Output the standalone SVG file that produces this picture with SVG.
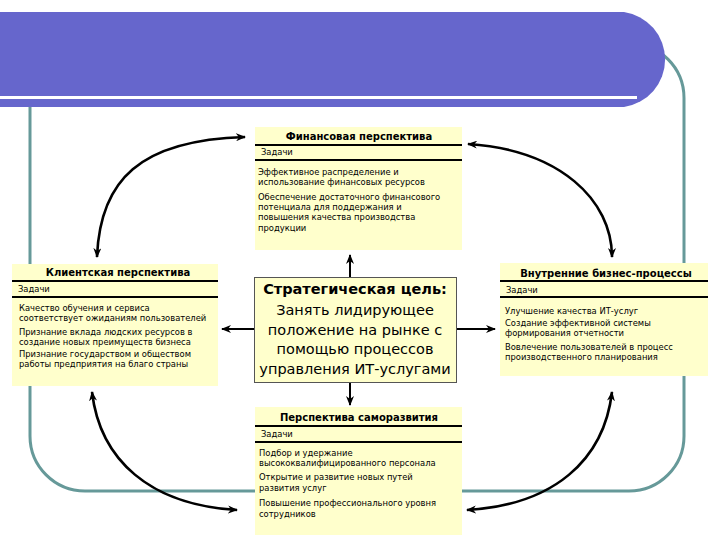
<svg xmlns="http://www.w3.org/2000/svg" width="720" height="540" viewBox="0 0 720 540">
<defs>
<marker id="ah" viewBox="0 0 10 8" refX="9" refY="4" markerWidth="10" markerHeight="8" markerUnits="userSpaceOnUse" orient="auto-start-reverse">
<path d="M0,0 L10,4 L0,8 L3,4 z" fill="#000"/>
</marker>
<style>
.box{fill:#FFFFCC;}
.sep{stroke:#000;stroke-width:2;}
.ttl{font-family:"DejaVu Sans",Verdana,sans-serif;font-weight:bold;font-size:10px;fill:#000;text-anchor:middle;}
.sm{font-family:"DejaVu Sans",Verdana,sans-serif;font-size:8.4px;fill:#000;}
.cen{font-family:"DejaVu Sans",Verdana,sans-serif;font-size:14.5px;fill:#000;text-anchor:middle;}
.conn path,.conn line{fill:none;stroke:#000;}
.curve{stroke-width:2.6;}
.str{stroke-width:2;}
</style>
</defs>
<rect width="720" height="540" fill="#fff"/>
<rect x="30" y="43" width="654" height="448" rx="55" ry="55" fill="none" stroke="#669999" stroke-width="3"/>
<path d="M-5,12 H624 A48,48 0 0 1 624,107 H-5 z" fill="#6666CC"/>
<line x1="0" y1="97.5" x2="637" y2="97.5" stroke="#fff" stroke-width="3"/>

<g id="financial">
<rect class="box" x="255" y="127" width="207" height="123"/>
<text class="ttl" x="359" y="140">Финансовая перспектива</text>
<line class="sep" x1="255" y1="145" x2="462" y2="145"/>
<text class="sm" x="261" y="155">Задачи</text>
<line class="sep" x1="255" y1="160" x2="462" y2="160"/>
<text class="sm" x="258" y="175">Эффективное распределение и</text>
<text class="sm" x="258" y="185">использование финансовых ресурсов</text>
<text class="sm" x="258" y="200">Обеспечение достаточного финансового</text>
<text class="sm" x="258" y="210">потенциала для поддержания и</text>
<text class="sm" x="258" y="220">повышения качества производства</text>
<text class="sm" x="258" y="231">продукции</text>
</g>

<g id="client">
<rect class="box" x="12" y="264" width="206" height="122"/>
<text class="ttl" x="118" y="276">Клиентская перспектива</text>
<line class="sep" x1="12" y1="281" x2="218" y2="281"/>
<text class="sm" x="18" y="292">Задачи</text>
<line class="sep" x1="12" y1="297" x2="218" y2="297"/>
<text class="sm" x="19" y="311">Качество обучения и сервиса</text>
<text class="sm" x="19" y="321">соответствует ожиданиям пользователей</text>
<text class="sm" x="19" y="335">Признание вклада людских ресурсов в</text>
<text class="sm" x="19" y="345">создание новых преимуществ бизнеса</text>
<text class="sm" x="19" y="357">Признание государством и обществом</text>
<text class="sm" x="19" y="367">работы предприятия на благо страны</text>
</g>

<g id="internal">
<rect class="box" x="500" y="263" width="208" height="113"/>
<text class="ttl" x="606" y="277">Внутренние бизнес-процессы</text>
<line class="sep" x1="500" y1="281" x2="708" y2="281"/>
<text class="sm" x="506" y="293">Задачи</text>
<line class="sep" x1="500" y1="297" x2="708" y2="297"/>
<text class="sm" x="505" y="314">Улучшение качества ИТ-услуг</text>
<text class="sm" x="505" y="326">Создание эффективной системы</text>
<text class="sm" x="505" y="336">формирования отчетности</text>
<text class="sm" x="505" y="350">Вовлечение пользователей в процесс</text>
<text class="sm" x="505" y="360">производственного планирования</text>
</g>

<g id="goal">
<rect x="254.5" y="277.5" width="202" height="105" fill="#FFFFCC" stroke="#555" stroke-width="1"/>
<text class="cen" x="355" y="294" font-weight="bold" font-size="14px">Стратегическая цель:</text>
<text class="cen" x="355" y="315">Занять лидирующее</text>
<text class="cen" x="355" y="334.5">положение на рынке с</text>
<text class="cen" x="355" y="354">помощью процессов</text>
<text class="cen" x="355" y="373.5">управления ИТ-услугами</text>
</g>

<g id="selfdev">
<rect class="box" x="255" y="407" width="207" height="128"/>
<text class="ttl" x="359" y="421">Перспектива саморазвития</text>
<line class="sep" x1="255" y1="426" x2="462" y2="426"/>
<text class="sm" x="261" y="437">Задачи</text>
<line class="sep" x1="255" y1="442" x2="462" y2="442"/>
<text class="sm" x="259" y="456">Подбор и удержание</text>
<text class="sm" x="259" y="466">высококвалифицированного персонала</text>
<text class="sm" x="259" y="480">Открытие и развитие новых путей</text>
<text class="sm" x="259" y="491">развития услуг</text>
<text class="sm" x="259" y="506">Повышение профессионального уровня</text>
<text class="sm" x="259" y="517">сотрудников</text>
</g>

<g id="connectors" class="conn">
<path class="curve" d="M97,257 C100,180 140,140 245,137" marker-start="url(#ah)" marker-end="url(#ah)"/>
<path class="curve" d="M468,144 C560,150 612,200 612,257" marker-start="url(#ah)" marker-end="url(#ah)"/>
<path class="curve" d="M92,392 C100,460 150,505 237,510" marker-start="url(#ah)" marker-end="url(#ah)"/>
<path class="curve" d="M612,392 C604,460 554,505 467,510" marker-start="url(#ah)" marker-end="url(#ah)"/>
<line class="str" x1="350" y1="277" x2="350" y2="255" marker-end="url(#ah)"/>
<line class="str" x1="350" y1="383" x2="350" y2="405" marker-end="url(#ah)"/>
<line class="str" x1="254" y1="329" x2="222" y2="329" marker-end="url(#ah)"/>
<line class="str" x1="457" y1="329" x2="495" y2="329" marker-end="url(#ah)"/>
</g>
</svg>
